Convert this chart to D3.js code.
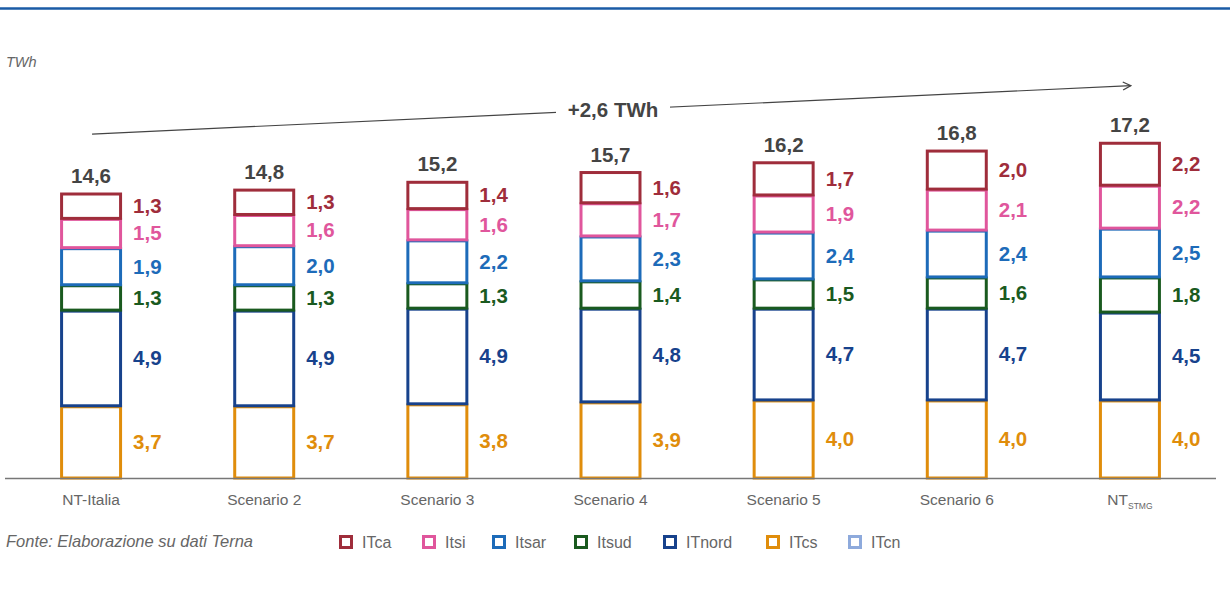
<!DOCTYPE html>
<html>
<head>
<meta charset="utf-8">
<script src="https://cdn.jsdelivr.net/npm/d3@7"></script>
<style>
  body { margin: 0; background: #fff; }
  svg { display: block; font-family: "Liberation Sans", Arial, sans-serif; }
</style>
</head>
<body>
<svg></svg>
<script>
var W = 1230, H = 596;

// data
var scenarios = ['NT-Italia', 'Scenario 2', 'Scenario 3', 'Scenario 4', 'Scenario 5', 'Scenario 6', 'NT_STMG'];
var ITcs   = [3.7, 3.7, 3.8, 3.9, 4.0, 4.0, 4.0];
var ITnord = [4.9, 4.9, 4.9, 4.8, 4.7, 4.7, 4.5];
var Itsud  = [1.3, 1.3, 1.3, 1.4, 1.5, 1.6, 1.8];
var Itsar  = [1.9, 2.0, 2.2, 2.3, 2.4, 2.4, 2.5];
var Itsi   = [1.5, 1.6, 1.6, 1.7, 1.9, 2.1, 2.2];
var ITca   = [1.3, 1.3, 1.4, 1.6, 1.7, 2.0, 2.2];
var ITcn   = [0, 0, 0, 0, 0, 0, 0];
var totals = [14.6, 14.8, 15.2, 15.7, 16.2, 16.8, 17.2];

// stack order bottom -> top
var keys = ['ITcs', 'ITnord', 'Itsud', 'Itsar', 'Itsi', 'ITca'];
var legendKeys = ['ITca', 'Itsi', 'Itsar', 'Itsud', 'ITnord', 'ITcs', 'ITcn'];
var colors = {
    ITca: '#9f2d3b',
    Itsi: '#e0569c',
    Itsar: '#1d6bb9',
    Itsud: '#1a5a1f',
    ITnord: '#17428c',
    ITcs: '#e08d0b',
    ITcn: '#8eaadc'
};
var series = { ITcs: ITcs, ITnord: ITnord, Itsud: Itsud, Itsar: Itsar, Itsi: Itsi, ITca: ITca, ITcn: ITcn };

var rows = scenarios.map(function (s, i) {
    var r = { name: s };
    keys.forEach(function (k) { r[k] = series[k][i]; });
    return r;
});

var locale = d3.formatLocale({ decimal: ',', thousands: '.', grouping: [3], currency: ['', '€'] });
var fmt = locale.format('.1f');

var svg = d3.select('svg').attr('width', W).attr('height', H);

// top rule
svg.append('line')
    .attr('x1', 0).attr('x2', W)
    .attr('y1', 8.5).attr('y2', 8.5)
    .attr('stroke', '#1a5ba6')
    .attr('stroke-width', 2.5);

var x = d3.scaleBand()
    .domain(scenarios)
    .range([4.5, 1216.5])
    .paddingInner(0.642)
    .paddingOuter(0.321);

var y = d3.scaleLinear()
    .domain([0, 18])
    .range([478, 478 - 18 * 19.52]);

var stack = d3.stack().keys(keys);
var layers = stack(rows);

var g = svg.append('g');

layers.forEach(function (layer) {
    var key = layer.key;
    g.selectAll('rect.' + key)
        .data(layer)
        .enter().append('rect')
        .attr('class', key)
        .attr('x', function (d) { return x(d.data.name) + 1.5; })
        .attr('width', x.bandwidth() - 3)
        .attr('y', function (d) { return y(d[1]) + 1; })
        .attr('height', function (d) { return y(d[0]) - y(d[1]) - 1; })
        .attr('fill', 'none')
        .attr('stroke', colors[key])
        .attr('stroke-width', 3);

    g.selectAll('text.' + key)
        .data(layer)
        .enter().append('text')
        .attr('class', key)
        .attr('x', function (d) { return x(d.data.name) + x.bandwidth() + 11; })
        .attr('y', function (d) { return (y(d[0]) + y(d[1])) / 2; })
        .attr('dy', '0.36em')
        .attr('fill', colors[key])
        .style('font-size', '20.5px')
        .style('font-weight', 'bold')
        .text(function (d) { return fmt(d[1] - d[0]); });
});

// totals
g.selectAll('text.total')
    .data(scenarios)
    .enter().append('text')
    .attr('class', 'total')
    .attr('x', function (d) { return x(d) + x.bandwidth() / 2; })
    .attr('y', function (d, i) { return y(totals[i]) - 10; })
    .attr('text-anchor', 'middle')
    .attr('fill', '#444')
    .style('font-size', '20.5px')
    .style('font-weight', 'bold')
    .text(function (d, i) { return fmt(totals[i]); });

// baseline
svg.append('line')
    .attr('x1', 5).attr('x2', 1216)
    .attr('y1', y(0) + 0.5).attr('y2', y(0) + 0.5)
    .attr('stroke', '#777')
    .attr('stroke-width', 1.5);

// x labels
var xl = svg.selectAll('text.xl')
    .data(scenarios)
    .enter().append('text')
    .attr('class', 'xl')
    .attr('x', function (d) { return x(d) + x.bandwidth() / 2; })
    .attr('y', 504.5)
    .attr('text-anchor', 'middle')
    .attr('fill', '#666')
    .style('font-size', '15.5px');

xl.each(function (d) {
    var t = d3.select(this);
    var parts = d.split('_');
    t.append('tspan').text(parts[0]);
    if (parts[1]) {
        t.append('tspan')
            .attr('dy', 4)
            .style('font-size', '8.5px')
            .text(parts[1]);
    }
});

// growth arrow
var first = scenarios[0], last = scenarios[scenarios.length - 1];
var ax1 = x(first) + x.bandwidth() / 2 + 1, ay1 = y(17.62);
var ax2 = x(last) + x.bandwidth() / 2 + 1, ay2 = y(20.1);

svg.append('defs').append('marker')
    .attr('id', 'arr')
    .attr('viewBox', '0 0 10 10')
    .attr('refX', 9).attr('refY', 5)
    .attr('markerWidth', 10).attr('markerHeight', 10)
    .attr('markerUnits', 'userSpaceOnUse')
    .attr('orient', 'auto')
    .append('path')
    .attr('d', 'M1,1 L9,5 L1,9')
    .attr('fill', 'none')
    .attr('stroke', '#444')
    .attr('stroke-width', 1.3);

svg.append('line')
    .attr('x1', ax1).attr('y1', ay1)
    .attr('x2', ax2).attr('y2', ay2)
    .attr('stroke', '#444')
    .attr('stroke-width', 1.2)
    .attr('marker-end', 'url(#arr)');

var lx = 613, ly = ay1 + (ay2 - ay1) * (lx - ax1) / (ax2 - ax1);
svg.append('rect')
    .attr('x', lx - 57).attr('y', ly - 14)
    .attr('width', 114).attr('height', 28)
    .attr('fill', '#fff');
svg.append('text')
    .attr('x', lx).attr('y', ly)
    .attr('dy', '0.36em')
    .attr('text-anchor', 'middle')
    .attr('fill', '#444')
    .style('font-size', '20.5px')
    .style('font-weight', 'bold')
    .text('+' + fmt(totals[totals.length - 1] - totals[0]) + ' TWh');

// unit
svg.append('text')
    .attr('x', 6).attr('y', 67)
    .attr('fill', '#666')
    .style('font-size', '14.5px')
    .style('font-style', 'italic')
    .text('TWh');

// source
svg.append('text')
    .attr('x', 6).attr('y', 547)
    .attr('fill', '#666')
    .style('font-size', '16.5px')
    .style('font-style', 'italic')
    .text('Fonte: Elaborazione su dati Terna');

// legend
var legendX = [339, 422, 492, 574, 663, 766, 848];
var lg = svg.selectAll('g.lg')
    .data(legendKeys)
    .enter().append('g')
    .attr('class', 'lg')
    .attr('transform', function (d, i) { return 'translate(' + legendX[i] + ',535)'; });

lg.append('rect')
    .attr('x', 1.5).attr('y', 1.5)
    .attr('width', 11).attr('height', 11)
    .attr('fill', 'none')
    .attr('stroke', function (d) { return colors[d]; })
    .attr('stroke-width', 3);

lg.append('text')
    .attr('x', 23).attr('y', 12.5)
    .attr('fill', '#666')
    .style('font-size', '16px')
    .text(function (d) { return d; });
</script>
</body>
</html>
